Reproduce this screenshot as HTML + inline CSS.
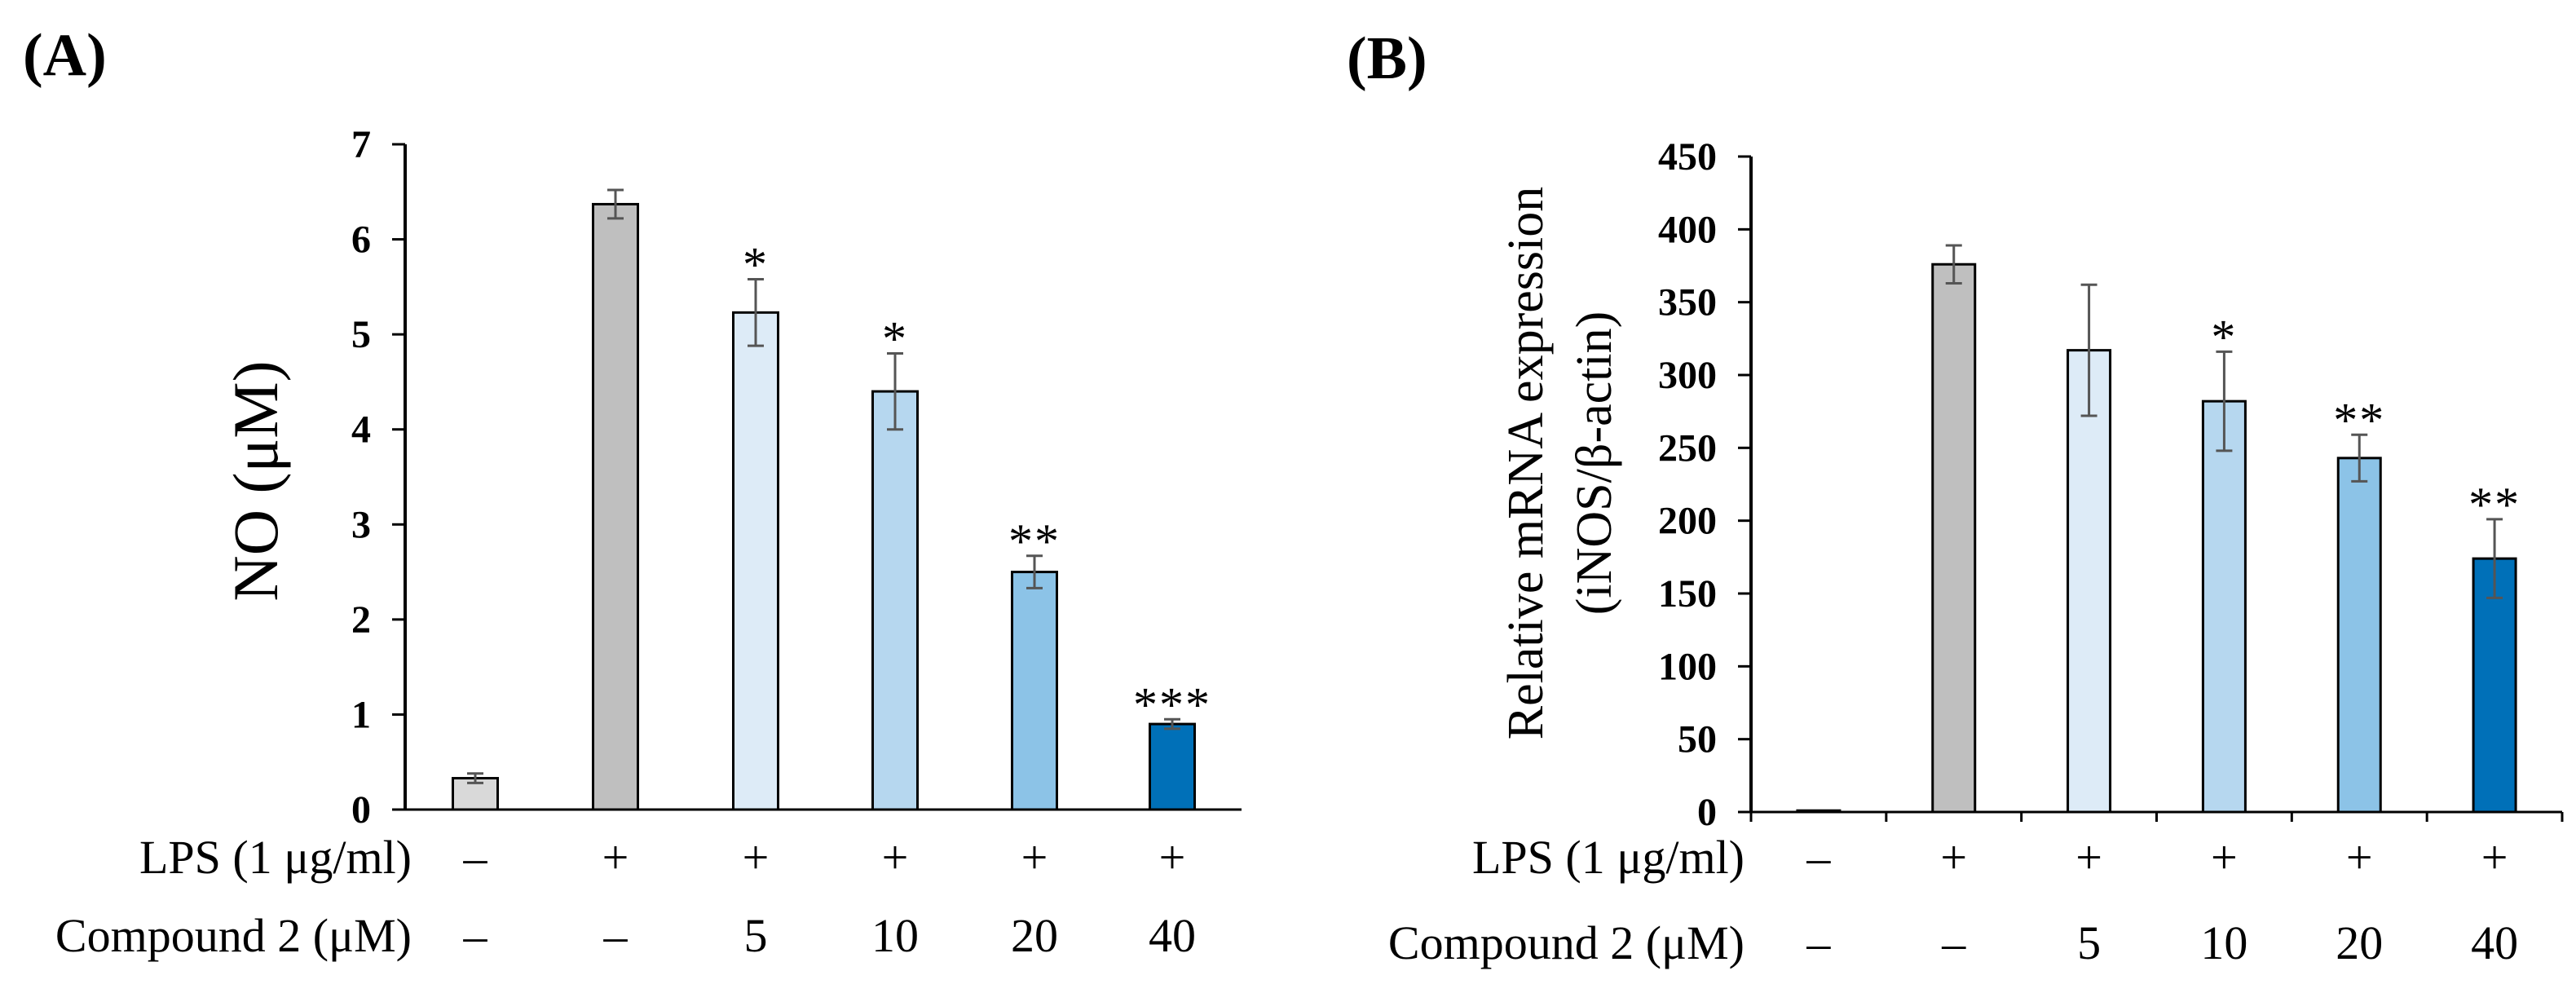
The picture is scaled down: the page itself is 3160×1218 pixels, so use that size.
<!DOCTYPE html>
<html><head><meta charset="utf-8"><style>
html,body{margin:0;padding:0;background:#fff;}
svg{display:block;font-family:"Liberation Serif",serif;}
</style></head><body>
<svg id="fig" width="3160" height="1218" viewBox="0 0 3160 1218" xmlns="http://www.w3.org/2000/svg">
<text x="28" y="92" font-size="74" font-weight="bold">(A)</text>
<text x="1652" y="96" font-size="74" font-weight="bold">(B)</text>
<g id="ga"></g>
<g id="gb"></g>
</svg>
<script>
const lps = ["–","+","+","+","+","+"];
const comp = ["–","–","5","10","20","40"];
const colors = ["#d9d9d9","#bfbfbf","#ddebf7","#b6d7ef","#8cc3e7","#0070b8"];
const aValues = [0.33,6.37,5.23,4.40,2.50,0.90];
const aErrors = [0.05,0.15,0.35,0.40,0.17,0.05];
const aStars = ["","","*","*","**","***"];
const aTicks = [0,1,2,3,4,5,6,7];
const bValues = [1,376,317,282,243,174];
const bErrors = [0,13,45,34,16,27];
const bStars = ["","","","*","**","**"];
const bTicks = [0,50,100,150,200,250,300,350,400,450];
const NS = "http://www.w3.org/2000/svg";
function mk(p,tag,at,txt){const e=document.createElementNS(NS,tag);for(const k in at)e.setAttribute(k,at[k]);if(txt!==undefined)e.textContent=txt;p.appendChild(e);return e;}

function draw(g,cfg){
  const y = v => cfg.y0 - (v-cfg.vmin)/(cfg.vmax-cfg.vmin)*(cfg.y0-cfg.y1);
  const n = cfg.values.length;
  const step = (cfg.xEnd-cfg.axisX)/n;
  const xc = i => cfg.centers ? cfg.centers[i] : cfg.axisX + step*(i+0.5);
  // y axis
  let l=mk(g,'line',{x1:cfg.axisX,y1:cfg.y1,x2:cfg.axisX,y2:cfg.y0,stroke:'#000','stroke-width':4});
  
  
  cfg.ticks.forEach(t=>{
    const tk=mk(g,'line',{x1:cfg.axisX-16,y1:y(t),x2:cfg.axisX,y2:y(t),stroke:'#000','stroke-width':3});
    
    
    const tl=mk(g,'text',{x:cfg.axisX-cfg.labGap,y:y(t)+16,'font-size':48,'font-weight':'bold','text-anchor':'end'},String(t));
    
    
  });
  // x axis
  const xa=mk(g,'line',{x1:cfg.axisX-14,y1:cfg.y0,x2:cfg.xEnd,y2:cfg.y0,stroke:'#000','stroke-width':3});
  
  
  if(cfg.xticks){for(let i=0;i<=n;i++){const xx=cfg.axisX+step*i;const t=mk(g,'line',{x1:xx,y1:cfg.y0,x2:xx,y2:cfg.y0+12,stroke:'#000','stroke-width':3});
    
    }}
  cfg.values.forEach((v,i)=>{
    const c=xc(i), w=cfg.bw;
    const r=mk(g,'rect',{x:c-w/2,y:y(v),width:w,height:cfg.y0-y(v),fill:colors[i],stroke:'#000','stroke-width':3});
    
    
    const e=cfg.errors[i];
    if(e>0){
      const eg=mk(g,'path',{d:`M${c},${y(v+e)}V${y(v-e)}M${c-10},${y(v+e)}H${c+10}M${c-10},${y(v-e)}H${c+10}`,stroke:'#555','stroke-width':3,fill:'none'});
      
      
    }
    if(cfg.stars[i]){
      const s=mk(g,'text',{x:c,y:y(v+e)+2,'font-size':60,'text-anchor':'middle','letter-spacing':'2'},cfg.stars[i]);
      
      
    }
    const a=mk(g,'text',{x:c,y:cfg.rowY1+20,'font-size':58,'text-anchor':'middle'},lps[i]);
    
    
    const b=mk(g,'text',{x:c,y:cfg.rowY2+20,'font-size':58,'text-anchor':'middle'},comp[i]);
    
    
  });
  const l1=mk(g,'text',{x:cfg.rowLabX,y:cfg.rowY1+20,'font-size':58,'text-anchor':'end'},'LPS (1 μg/ml)');
  
  
  const l2=mk(g,'text',{x:cfg.rowLabX,y:cfg.rowY2+20,'font-size':58,'text-anchor':'end'},'Compound 2 (μM)');
  
  
}
draw(document.getElementById('ga'),{values:aValues,errors:aErrors,stars:aStars,ticks:aTicks,vmin:0,vmax:7,
  y0:993,y1:177,axisX:497,xEnd:1523,bw:55,centers:[583,755,927,1098,1269,1438],labGap:42,xticks:false,
  rowY1:1051,rowY2:1147,rowLabX:505});
draw(document.getElementById('gb'),{values:bValues,errors:bErrors,stars:bStars,ticks:bTicks,vmin:0,vmax:450,
  y0:996,y1:192,axisX:2148,xEnd:3143,bw:52,labGap:42,xticks:true,
  rowY1:1051,rowY2:1156,rowLabX:2140});
const ga=document.getElementById('ga'), gb=document.getElementById('gb');
const ya=mk(ga,'text',{x:0,y:0,'font-size':78,'text-anchor':'middle',transform:'translate(340,590) rotate(-90)'},'NO (μM)');


const yb1=mk(gb,'text',{x:0,y:0,'font-size':62,'text-anchor':'middle',transform:'translate(1892,568) rotate(-90)'},'Relative mRNA expression');


const yb2=mk(gb,'text',{x:0,y:0,'font-size':62,'text-anchor':'middle',transform:'translate(1976,568) rotate(-90)'},'(iNOS/β-actin)');


</script>
</body></html>
